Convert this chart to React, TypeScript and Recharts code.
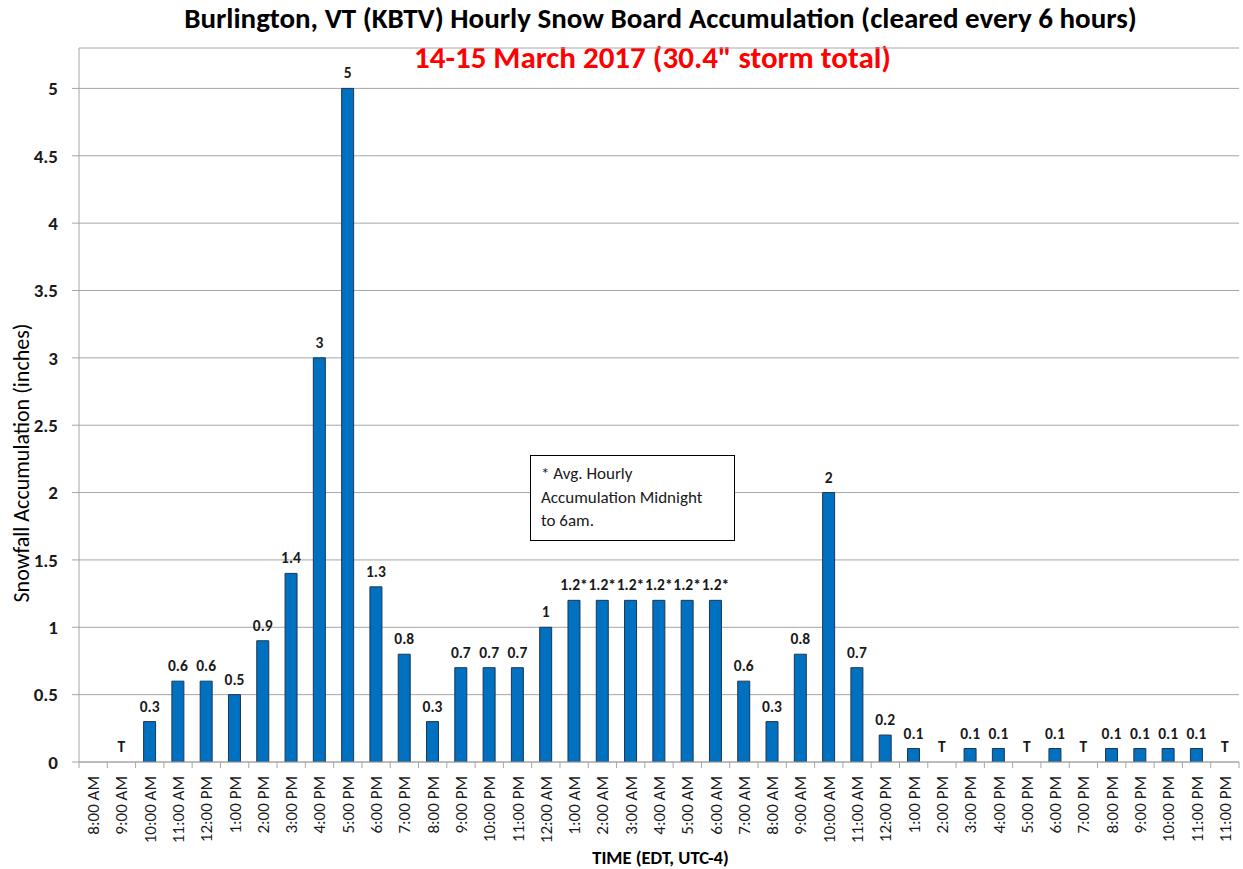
import { Bar, BarChart, CartesianGrid, LabelList, XAxis, YAxis } from 'recharts'

const HOURS = [
  '8:00 AM', '9:00 AM', '10:00 AM', '11:00 AM', '12:00 PM', '1:00 PM', '2:00 PM', '3:00 PM',
  '4:00 PM', '5:00 PM', '6:00 PM', '7:00 PM', '8:00 PM', '9:00 PM', '10:00 PM', '11:00 PM',
  '12:00 AM', '1:00 AM', '2:00 AM', '3:00 AM', '4:00 AM', '5:00 AM', '6:00 AM', '7:00 AM',
  '8:00 AM', '9:00 AM', '10:00 AM', '11:00 AM', '12:00 PM', '1:00 PM', '2:00 PM', '3:00 PM',
  '4:00 PM', '5:00 PM', '6:00 PM', '7:00 PM', '8:00 PM', '9:00 PM', '10:00 PM', '11:00 PM',
  '11:00 PM',
]

const SNOW = [
  0, 0, 0.3, 0.6, 0.6, 0.5, 0.9, 1.4, 3, 5, 1.3, 0.8, 0.3, 0.7, 0.7, 0.7,
  1, 1.2, 1.2, 1.2, 1.2, 1.2, 1.2, 0.6, 0.3, 0.8, 2, 0.7, 0.2, 0.1, 0, 0.1,
  0.1, 0, 0.1, 0, 0.1, 0.1, 0.1, 0.1, 0,
]

// T = trace
const LABELS = [
  '', 'T', '0.3', '0.6', '0.6', '0.5', '0.9', '1.4', '3', '5', '1.3', '0.8', '0.3', '0.7', '0.7', '0.7',
  '1', '1.2*', '1.2*', '1.2*', '1.2*', '1.2*', '1.2*', '0.6', '0.3', '0.8', '2', '0.7', '0.2', '0.1', 'T', '0.1',
  '0.1', 'T', '0.1', 'T', '0.1', '0.1', '0.1', '0.1', 'T',
]

const Y_TICKS = [0, 0.5, 1, 1.5, 2, 2.5, 3, 3.5, 4, 4.5, 5]

const data = HOURS.map((hour, i) => ({ idx: i, hour, snow: SNOW[i], label: LABELS[i] }))

const W = 1243
const H = 869
const X_AXIS_H = 107
const Y_AXIS_W = 79
const M = { top: 48, right: 4, bottom: 0, left: 0 }
const BAND = (W - M.right - Y_AXIS_W) / HOURS.length
const BASE_Y = H - X_AXIS_H

const FONT = 'Carlito, Calibri, Lato, "Open Sans", sans-serif'

function HourTick(props: any) {
  const { x, payload } = props
  const i = payload.value
  const ty = BASE_Y + 14
  return (
    <g>
      <line x1={x - BAND / 2} x2={x - BAND / 2} y1={BASE_Y} y2={BASE_Y + 6} stroke="#a6a6a6" />
      {i === HOURS.length - 1 && (
        <line x1={x + BAND / 2} x2={x + BAND / 2} y1={BASE_Y} y2={BASE_Y + 6} stroke="#a6a6a6" />
      )}
      {/* zero-height (trace) bars get their label here, on the baseline */}
      {LABELS[i] === 'T' && (
        <text x={x} y={BASE_Y - 10} textAnchor="middle" fontSize={15.5} fontWeight="bold" fontFamily={FONT} fill="#1a1a1a">
          T
        </text>
      )}
      <text
        x={x + 6}
        y={ty}
        transform={`rotate(-90, ${x + 6}, ${ty})`}
        textAnchor="end"
        fontSize={17}
        fontFamily={FONT}
        fill="#1a1a1a"
      >
        {HOURS[i]}
      </text>
    </g>
  )
}

function BarLabel(props: any) {
  const { x, y, width, value } = props
  if (!value || value === 'T') return null
  return (
    <text
      x={x + width / 2}
      y={y - 10}
      textAnchor="middle"
      fontSize={15.5}
      fontWeight="bold"
      fontFamily={FONT}
      fill="#1a1a1a"
    >
      {value}
    </text>
  )
}

export default function App() {
  return (
    <div style={{ position: 'absolute', left: 0, top: 0, width: W, height: H, background: '#fff', fontFamily: FONT }}>
      <div style={{ position: 'absolute', left: 0, width: W, top: 3, lineHeight: '30px', textAlign: 'center', fontSize: 29, fontWeight: 'bold', color: '#000', paddingLeft: 78, boxSizing: 'border-box' }}>
        Burlington, VT (KBTV) Hourly Snow Board Accumulation (cleared every 6 hours)
      </div>
      <div style={{ position: 'absolute', left: 0, width: W, top: 41, lineHeight: '32px', textAlign: 'center', fontSize: 31, fontWeight: 'bold', color: '#ff0000', paddingLeft: 62, boxSizing: 'border-box' }}>
        14-15 March 2017 (30.4" storm total)
      </div>
      <BarChart width={W} height={H} data={data} margin={M} barSize={12}>
        <CartesianGrid vertical={false} stroke="#a6a6a6" />
        <XAxis
          dataKey="idx"
          type="category"
          interval={0}
          tick={<HourTick />}
          tickLine={false}
          axisLine={{ stroke: '#a6a6a6' }}
          height={X_AXIS_H}
        />
        <YAxis
          width={Y_AXIS_W}
          domain={[0, 5.3]}
          ticks={Y_TICKS}
          interval={0}
          allowDataOverflow
          tickSize={7}
          tickMargin={14}
          tickLine={{ stroke: '#a6a6a6' }}
          axisLine={{ stroke: '#a6a6a6' }}
          tick={{ fontSize: 19, fontWeight: 'bold', fill: '#1a1a1a', fontFamily: FONT }}
        />
        <Bar dataKey="snow" fill="#0070c0" stroke="#1f3550" strokeWidth={1} isAnimationActive={false}>
          <LabelList dataKey="label" content={<BarLabel />} />
        </Bar>
      </BarChart>
      <div style={{ position: 'absolute', left: 22, top: 463, transform: 'translate(-50%, -50%) rotate(-90deg)', whiteSpace: 'nowrap', fontSize: 22, lineHeight: '24px', color: '#000' }}>
        Snowfall Accumulation (inches)
      </div>
      <div style={{ position: 'absolute', left: 0, width: W, top: 847, lineHeight: '22px', textAlign: 'center', paddingLeft: 78, boxSizing: 'border-box', fontSize: 18.5, fontWeight: 'bold', color: '#000' }}>
        TIME (EDT, UTC-4)
      </div>
      <div style={{ position: 'absolute', left: 530, top: 455, width: 205, height: 86, border: '1.5px solid #000', boxSizing: 'border-box', padding: '6px 10px', fontSize: 17, lineHeight: '23.5px', color: '#1a1a1a', background: '#fff', whiteSpace: 'nowrap' }}>
        * Avg. Hourly
        <br />
        Accumulation Midnight
        <br />
        to 6am.
      </div>
    </div>
  )
}
